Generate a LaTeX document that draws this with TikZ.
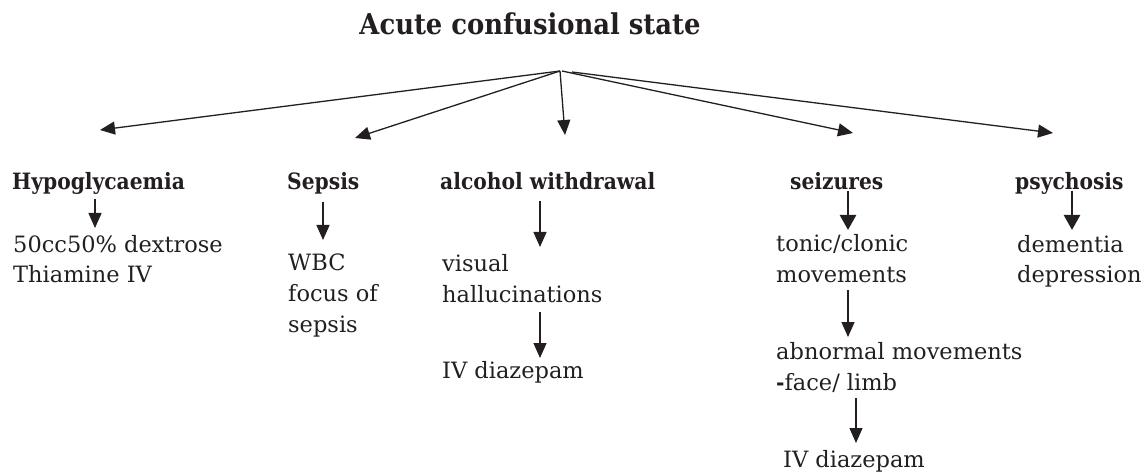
\documentclass[tikz,border=0pt]{standalone}
\usepackage{fontspec}
\setmainfont{DejaVu Serif}[BoldFeatures={FakeStretch=0.9}]
\usetikzlibrary{arrows.meta,calc}

\definecolor{ink}{RGB}{35,31,32}

% multi-line nodes sit on the baseline of their last line
\tikzset{
  txt/.style={inner sep=0pt, anchor=base west, align=left, text=ink,
              font=\fontsize{22.5}{31}\selectfont},
  head/.style={txt, font=\fontsize{22.5}{31}\selectfont\bfseries},
  arr/.style={draw=ink, line width=1.3pt, -{Triangle[length=15pt,width=13pt]}},
  thickarr/.style={arr, line width=2.4pt, -{Triangle[length=15pt,width=16pt]}},
}

\begin{document}
\begin{tikzpicture}[x=1pt,y=1pt]
\useasboundingbox (0,0) rectangle (1146,-473);

% title and branching point
\node[inner sep=0pt, anchor=base, text=ink, font=\fontsize{28.7}{34}\selectfont\bfseries]
  (title) at (530,-35) {Acute confusional state};
\coordinate (hub) at (560,-71);

% headings
\node[head] (hypo) at (12,-190)   {Hypoglycaemia};
\node[head] (seps) at (287,-190)  {Sepsis};
\node[head] (alc)  at (440,-190)  {alcohol withdrawal};
\node[head] (seiz) at (790,-190)  {seizures};
\node[head] (psy)  at (1015,-190) {psychosis};

% details
\node[txt] (dex)  at (13,-283)   {50cc50\% dextrose\\Thiamine IV};
\node[txt] (wbc)  at (288,-332)  {WBC\\focus of\\sepsis};
\node[txt] (vis)  at (442,-302)  {visual\\hallucinations};
\node[txt] (ivA)  at (442,-378)  {IV diazepam};
\node[txt] (ton)  at (776,-282)  {tonic/clonic\\movements};
\node[txt] (abn)  at (776,-390)  {abnormal movements\\{\bfseries -}face/ limb};
\node[txt] (ivB)  at (783,-467)  {IV diazepam};
\node[txt] (dem)  at (1017,-283) {dementia\\depression};

% branches from the title
\draw[arr] (hub) -- ($(hypo.base west)+(88,60)$);
\draw[arr] (hub) -- ($(seps.base west)+(68,52)$);
\draw[arr] (hub) -- ($(alc.base west)+(125,55)$);
\draw[arr] ($(hub)+(2,0)$) -- ($(seiz.base west)+(63,57)$);
\draw[arr] ($(hub)+(12,-1)$) -- ($(psy.base west)+(38,57)$);

% chains below each heading
\draw[arr] ($(hypo.base west)+(83,-9)$)  -- ($(dex.base west)+(82,55)$);
\draw[arr] ($(seps.base west)+(36,-12)$) -- ($(wbc.base west)+(35,92)$);
\draw[arr] ($(alc.base west)+(100,-11)$) -- ($(vis.base west)+(98,55)$);
\draw[arr] ($(vis.base west)+(98,-10)$)  -- ($(ivA.base west)+(98,20)$);
\draw[thickarr] ($(seiz.base west)+(58,-1)$) -- ($(ton.base west)+(72,52)$);
\draw[arr] ($(ton.base west)+(72,-8)$)   -- ($(abn.base west)+(72,53)$);
\draw[arr] ($(abn.base west)+(80,-8)$)   -- ($(ivB.base west)+(73,24)$);
\draw[thickarr] ($(psy.base west)+(57,-1)$) -- ($(dem.base west)+(55,53)$);
\end{tikzpicture}
\end{document}
